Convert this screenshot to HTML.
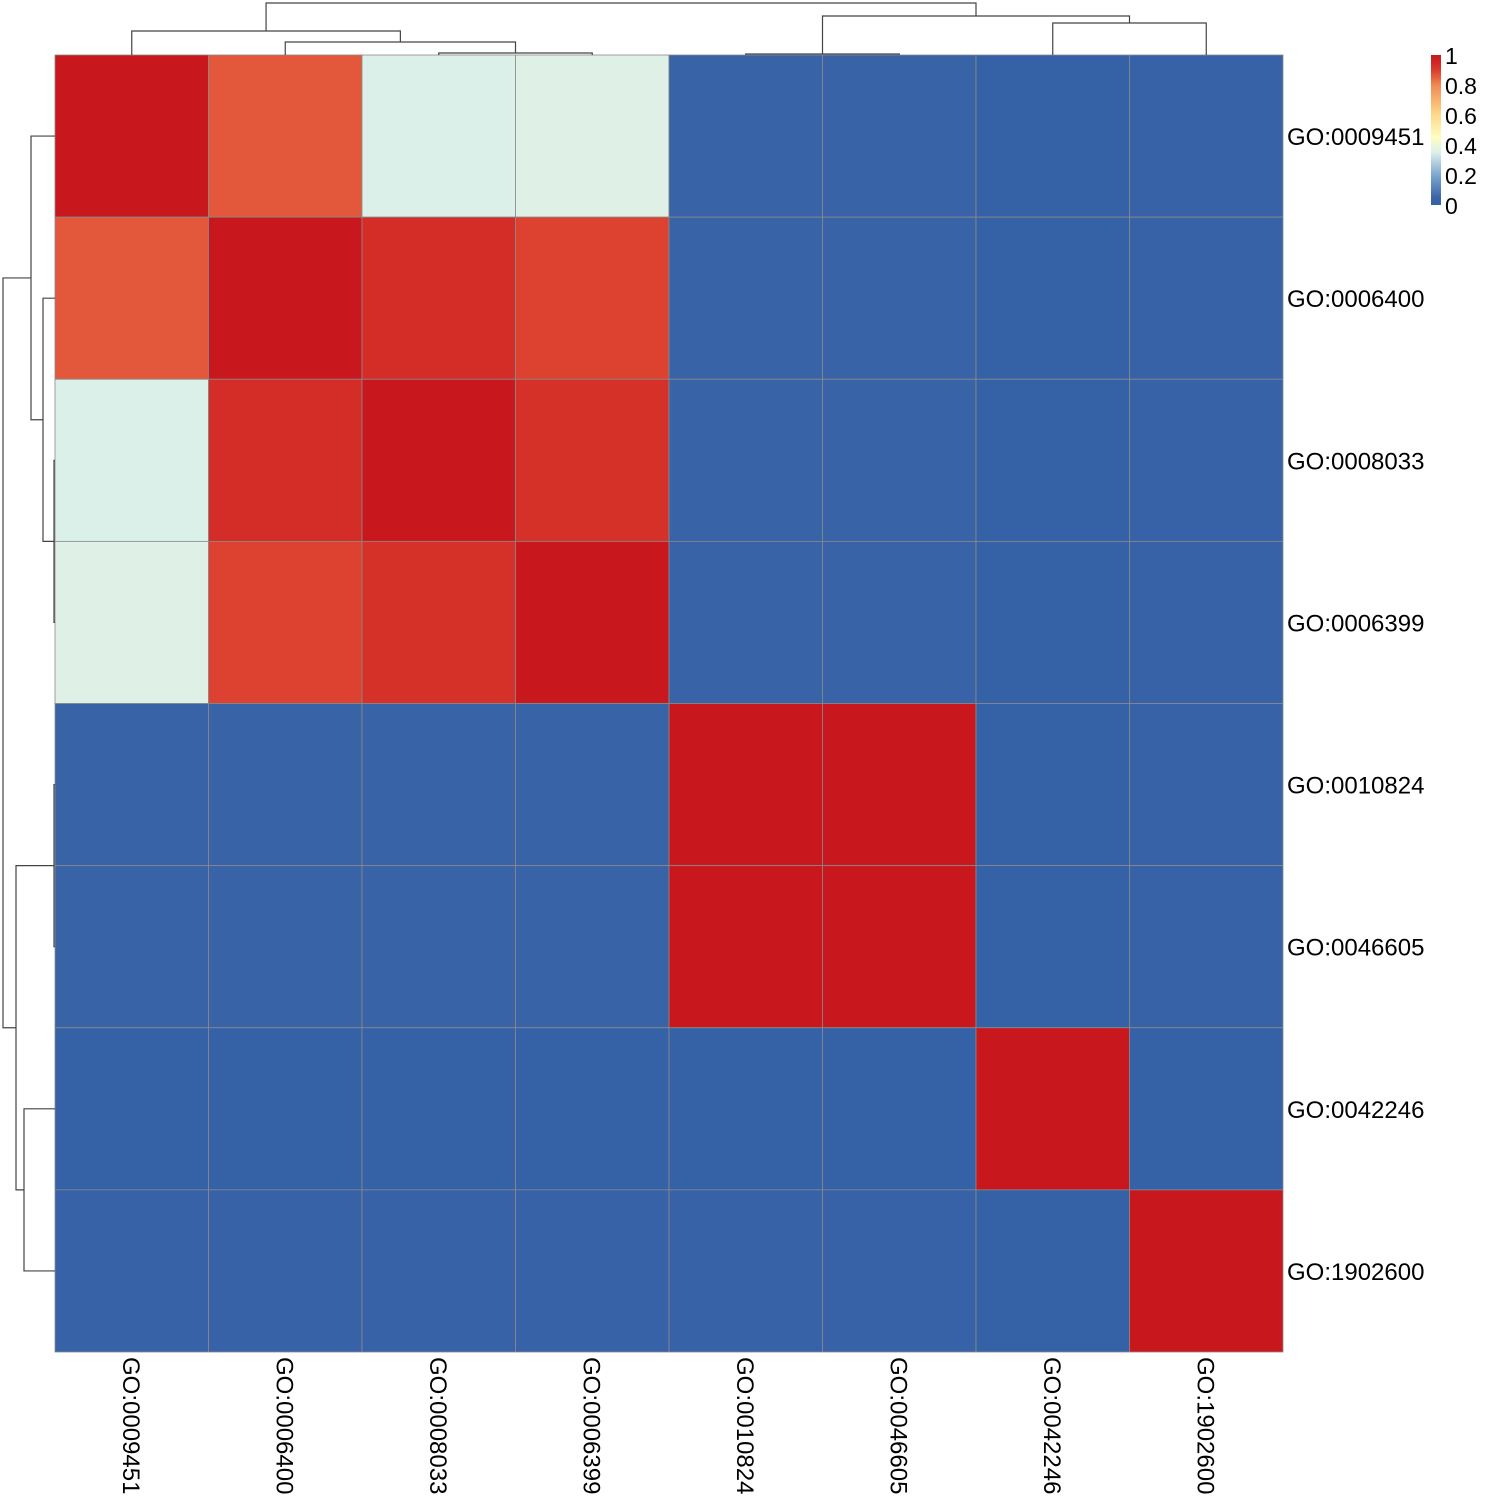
<!DOCTYPE html>
<html><head><meta charset="utf-8"><style>
html,body{margin:0;padding:0;background:#fff;}
svg{display:block;font-family:"Liberation Sans",Arial,sans-serif;}
</style></head><body>
<svg id="chart" width="1500" height="1500" xmlns="http://www.w3.org/2000/svg">
<g id="cells"></g>
<g id="dendro" stroke="#444" stroke-width="1.2" fill="none"></g>
<g id="labels"></g>
<g id="legend"></g>
</svg>
<script>
const categories = ["GO:0009451","GO:0006400","GO:0008033","GO:0006399","GO:0010824","GO:0046605","GO:0042246","GO:1902600"];
const row0 = [1.00,0.86,0.35,0.36,0.03,0.03,0.00,0.02];
const row1 = [0.86,1.00,0.93,0.89,0.03,0.03,0.00,0.02];
const row2 = [0.35,0.93,1.00,0.92,0.03,0.03,0.00,0.02];
const row3 = [0.36,0.89,0.92,1.00,0.03,0.03,0.00,0.02];
const row4 = [0.03,0.03,0.03,0.03,1.00,1.00,0.00,0.02];
const row5 = [0.03,0.03,0.03,0.03,1.00,1.00,0.00,0.02];
const row6 = [0.00,0.00,0.00,0.00,0.00,0.00,1.00,0.00];
const row7 = [0.02,0.02,0.02,0.02,0.02,0.02,0.00,1.00];
const values = [row0,row1,row2,row3,row4,row5,row6,row7];
const legendTicks = [0,0.2,0.4,0.6,0.8,1];
const legendTickLabels = ["0","0.2","0.4","0.6","0.8","1"];
const colMerges = [[2,3,53],[4,5,54],[6,7,23],[1,8,42],[0,11,31],[9,10,16],[12,13,3]];
const rowMerges = [[2,3,54],[4,5,54],[6,7,24],[1,8,43],[0,11,31],[9,10,16],[12,13,3]];

const NS="http://www.w3.org/2000/svg";
const X0=55,X1=1283,Y0=55,Y1=1352,N=categories.length;
const cw=(X1-X0)/N, ch=(Y1-Y0)/N;
const xPos=i=>X0+i*cw, yPos=i=>Y0+i*ch;
const stops=[[0,[53,97,166]],[0.05,[60,100,168]],[0.2,[126,166,207]],[0.35,[220,240,234]],[0.45,[254,254,192]],[0.6,[253,217,138]],[0.8,[240,138,82]],[0.88,[223,70,50]],[0.93,[212,44,39]],[1,[200,24,30]]];
function color(v){for(let k=1;k<stops.length;k++){if(v<=stops[k][0]){const a=stops[k-1],b=stops[k],t=(v-a[0])/(b[0]-a[0]);return "rgb("+a[1].map((c,j)=>Math.round(c+(b[1][j]-c)*t)).join(",")+")";}}return "rgb(200,24,30)";}
function mk(tag,attrs,parent){const e=document.createElementNS(NS,tag);for(const k in attrs)e.setAttribute(k,attrs[k]);parent.appendChild(e);return e;}
const cells=document.getElementById('cells');
values.forEach((row,r)=>row.forEach((v,c)=>{
  const el=mk('rect',{x:xPos(c),y:yPos(r),width:cw,height:ch,fill:color(v),stroke:'#8a8a8a','stroke-width':0.8},cells);
  
  
}));
const lab=document.getElementById('labels');
categories.forEach((c,i)=>{
  const t=mk('text',{x:1287,y:yPos(i)+ch/2+9,'font-size':24,fill:'#000'},lab);t.textContent=c;
  
  
  const cx=xPos(i)+cw/2;
  const t2=mk('text',{x:0,y:0,'font-size':24,fill:'#000',transform:'translate('+(cx-9)+',1357) rotate(90)'},lab);t2.textContent=c;
  
  
});
const dg=document.getElementById('dendro');
function drawDendro(merges,horizontal){
  const pos=[],h=[];
  for(let i=0;i<N;i++){pos[i]=horizontal?xPos(i)+cw/2:yPos(i)+ch/2;h[i]=horizontal?Y0:X0;}
  merges.forEach((m,k)=>{
    const[a,b,hh]=m,id=N+k;
    let d;
    if(horizontal)d=`M${pos[a]},${h[a]}V${hh}H${pos[b]}V${h[b]}`;
    else d=`M${h[a]},${pos[a]}H${hh}V${pos[b]}H${h[b]}`;
    const p=mk('path',{d:d},dg);
    
    
    pos[id]=(pos[a]+pos[b])/2;h[id]=hh;
  });
}
drawDendro(colMerges,true);drawDendro(rowMerges,false);
const lg=document.getElementById('legend');
const defs=mk('defs',{},lg);
const grad=mk('linearGradient',{id:'lgrad',x1:0,y1:1,x2:0,y2:0},defs);
for(let i=0;i<=20;i++){mk('stop',{offset:i/20,'stop-color':color(i/20)},grad);}
const LY0=205,LY1=55;
const bar=mk('rect',{x:1431,y:LY1,width:10,height:LY0-LY1,fill:'url(#lgrad)'},lg);


legendTicks.forEach((v,i)=>{
  const t=mk('text',{x:1445,y:LY0-(LY0-LY1)*v+9,'font-size':23,fill:'#000'},lg);t.textContent=legendTickLabels[i];
  
  
});
</script>
</body></html>
